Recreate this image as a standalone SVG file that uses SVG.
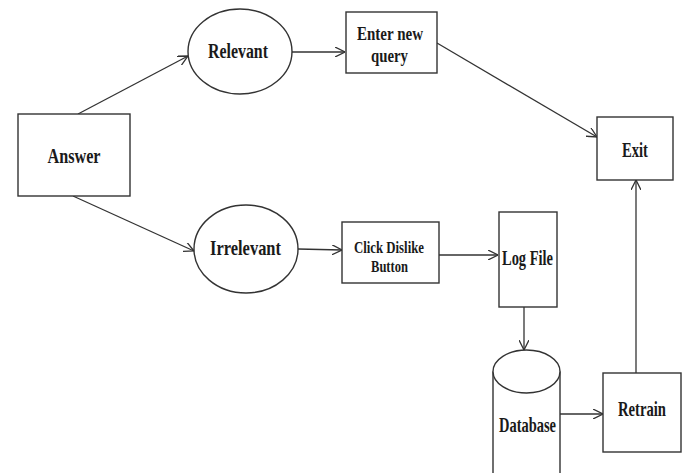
<svg xmlns="http://www.w3.org/2000/svg" width="686" height="473" viewBox="0 0 686 473">
<style>
.n{fill:#fff;stroke:#333;stroke-width:1.4}
.t{font-family:"Liberation Serif",serif;font-weight:bold;font-size:21px;fill:#1a1a1a;text-anchor:middle}
.m{font-size:19px}
.s{font-size:16px}
.c{fill:none;stroke:#333;stroke-width:1.3}
</style>
<defs>
<marker id="a" viewBox="0 0 10 10" refX="10" refY="5" markerWidth="10" markerHeight="10" markerUnits="userSpaceOnUse" orient="auto">
<path d="M0,0 L10,5 L0,10" fill="none" stroke="#333" stroke-width="1.3"/>
</marker>
</defs>
<rect width="686" height="473" fill="#fff"/>
<g id="connectors">
<line class="c" x1="78" y1="114" x2="188" y2="56" marker-end="url(#a)"/>
<line class="c" x1="292" y1="52" x2="345" y2="52" marker-end="url(#a)"/>
<line class="c" x1="437" y1="43" x2="597" y2="137" marker-end="url(#a)"/>
<line class="c" x1="73" y1="196" x2="194" y2="251" marker-end="url(#a)"/>
<line class="c" x1="298" y1="249" x2="342" y2="250" marker-end="url(#a)"/>
<line class="c" x1="439" y1="255" x2="498" y2="255" marker-end="url(#a)"/>
<line class="c" x1="524" y1="307" x2="524" y2="350" marker-end="url(#a)"/>
<line class="c" x1="560" y1="414" x2="603" y2="414" marker-end="url(#a)"/>
<line class="c" x1="636" y1="373" x2="636" y2="180" marker-end="url(#a)"/>
</g>
<g id="answer">
<rect class="n" x="18" y="114" width="112" height="82"/>
<text class="t" x="74" y="163" textLength="53" lengthAdjust="spacingAndGlyphs">Answer</text>
</g>
<g id="relevant">
<ellipse class="n" cx="240" cy="51.5" rx="52" ry="42.5"/>
<text class="t" x="238" y="58" textLength="60" lengthAdjust="spacingAndGlyphs">Relevant</text>
</g>
<g id="enter">
<rect class="n" x="346" y="12" width="91" height="61"/>
<text class="t m" x="390" y="40" textLength="66" lengthAdjust="spacingAndGlyphs">Enter new</text>
<text class="t m" x="389.5" y="62" textLength="37" lengthAdjust="spacingAndGlyphs">query</text>
</g>
<g id="exit">
<rect class="n" x="597" y="117" width="76" height="63"/>
<text class="t" x="635" y="157" textLength="26" lengthAdjust="spacingAndGlyphs">Exit</text>
</g>
<g id="irrelevant">
<ellipse class="n" cx="246" cy="249" rx="52" ry="44"/>
<text class="t" x="245.5" y="255" textLength="71" lengthAdjust="spacingAndGlyphs">Irrelevant</text>
</g>
<g id="click">
<rect class="n" x="342" y="222" width="97" height="61"/>
<text class="t s" x="389" y="253" textLength="70" lengthAdjust="spacingAndGlyphs">Click Dislike</text>
<text class="t s" x="389.5" y="272" textLength="37" lengthAdjust="spacingAndGlyphs">Button</text>
</g>
<g id="logfile">
<rect class="n" x="499" y="212" width="58" height="95"/>
<text class="t" x="527.5" y="265" textLength="51" lengthAdjust="spacingAndGlyphs">Log File</text>
</g>
<g id="database">
<path class="n" d="M493,371.5 L493,480 L560,480 L560,371.5"/>
<ellipse class="n" cx="526.5" cy="371.5" rx="33.5" ry="21.5"/>
<text class="t" x="527.5" y="432" textLength="57" lengthAdjust="spacingAndGlyphs">Database</text>
</g>
<g id="retrain">
<rect class="n" x="603" y="373" width="78" height="79"/>
<text class="t" x="642" y="416" textLength="48" lengthAdjust="spacingAndGlyphs">Retrain</text>
</g>
</svg>
